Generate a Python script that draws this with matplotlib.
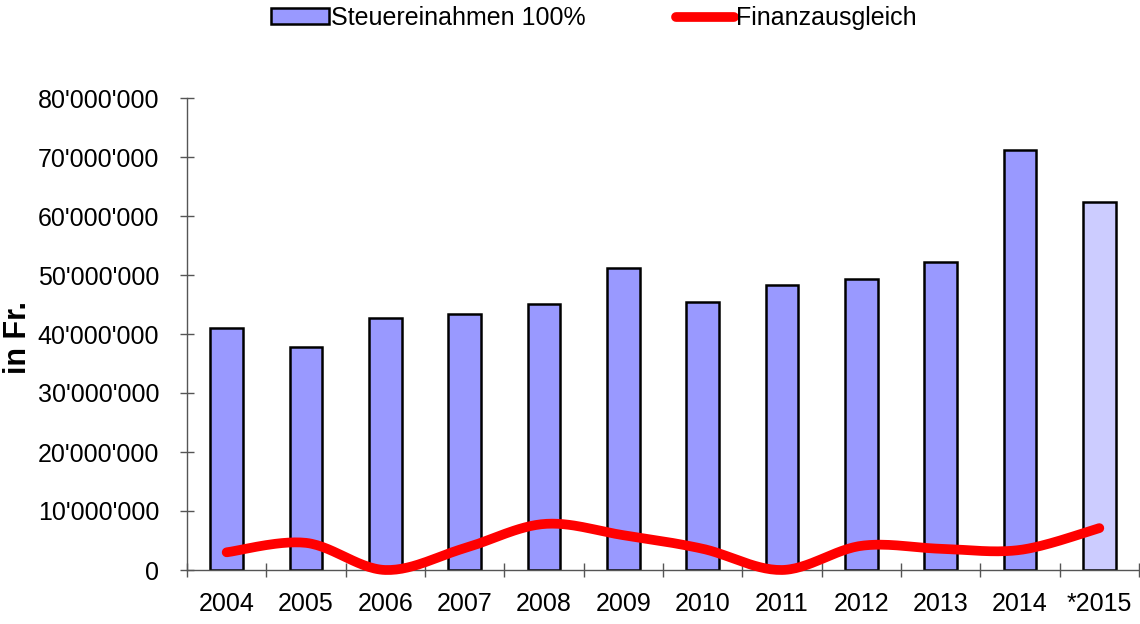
import numpy as np
import matplotlib.pyplot as plt
from matplotlib.ticker import FuncFormatter, MultipleLocator

plt.rcParams['font.family'] = ['Liberation Sans', 'DejaVu Sans']

years = ['2004', '2005', '2006', '2007', '2008', '2009', '2010', '2011',
         '2012', '2013', '2014', '*2015']
steuer = [41.1e6, 37.8e6, 42.7e6, 43.4e6, 45.1e6, 51.2e6, 45.4e6, 48.3e6,
          49.3e6, 52.2e6, 71.2e6, 62.4e6]
finanz = [3.0e6, 4.6e6, 0.0, 3.7e6, 7.8e6, 5.9e6, 3.6e6, 0.0,
          4.1e6, 3.6e6, 3.4e6, 7.1e6]


def smooth(x, y, n=30):
    # Excel-like smoothed line (Catmull-Rom Bezier segments)
    x = np.asarray(x, float)
    y = np.asarray(y, float)
    px = np.concatenate([[x[0]], x, [x[-1]]])
    py = np.concatenate([[y[0]], y, [y[-1]]])
    xs, ys = [], []
    t = np.linspace(0, 1, n)
    for i in range(len(x) - 1):
        p0x, p1x, p2x, p3x = px[i], px[i + 1], px[i + 2], px[i + 3]
        p0y, p1y, p2y, p3y = py[i], py[i + 1], py[i + 2], py[i + 3]
        c1x = p1x + (p2x - p0x) / 6
        c1y = p1y + (p2y - p0y) / 6
        c2x = p2x - (p3x - p1x) / 6
        c2y = p2y - (p3y - p1y) / 6
        bx = (1 - t)**3 * p1x + 3 * (1 - t)**2 * t * c1x + 3 * (1 - t) * t**2 * c2x + t**3 * p2x
        by = (1 - t)**3 * p1y + 3 * (1 - t)**2 * t * c1y + 3 * (1 - t) * t**2 * c2y + t**3 * p2y
        xs.extend(bx)
        ys.extend(by)
    return np.array(xs), np.array(ys)


fig = plt.figure(figsize=(11.4, 6.24), dpi=100)
ax = fig.add_axes([187 / 1140, 54 / 624, 952 / 1140, 472 / 624])

x = np.arange(len(years))
colors = ['#9999FF'] * (len(years) - 1) + ['#CCCCFF']
bars = ax.bar(x, steuer, width=0.41, color=colors, edgecolor='black',
              linewidth=1.8, label='Steuereinahmen 100%', zorder=2)

sx, sy = smooth(x, finanz)
line, = ax.plot(sx, sy, color='#FF0000', linewidth=7, solid_capstyle='round',
                label='Finanzausgleich', zorder=3, clip_on=False)

ax.set_xlim(-0.5, len(years) - 0.5)
ax.set_ylim(0, 80e6)
ax.yaxis.set_major_locator(MultipleLocator(10e6))
ax.yaxis.set_major_formatter(FuncFormatter(lambda v, p: f"{int(v):,}".replace(',', "'")))

ax.set_xticks(x)
ax.set_xticklabels(years)
ax.set_xticks(np.arange(-0.5, len(years)), minor=True)
ax.tick_params(axis='x', which='major', length=0, labelsize=18, pad=16)
ax.tick_params(axis='x', which='minor', direction='inout', length=10, width=1, color='#555555')
ax.tick_params(axis='y', direction='inout', length=10, width=1, color='#555555',
               labelsize=18, pad=15)

for s in ['top', 'right']:
    ax.spines[s].set_visible(False)
for s in ['left', 'bottom']:
    ax.spines[s].set_color('#555555')
    ax.spines[s].set_linewidth(1)

fig.text(18 / 1140, 1 - 337 / 624, 'in Fr.', rotation=90, ha='center', va='center',
         fontsize=22, fontweight='bold')

fig.legend(handles=[bars, line], loc='center', bbox_to_anchor=(594 / 1140, 1 - 18 / 624),
           ncol=2, frameon=False, fontsize=18, handlelength=2.3, handletextpad=0.1,
           columnspacing=3.6, handleheight=0.6, borderpad=0)

fig.savefig('out.png', dpi=100)
